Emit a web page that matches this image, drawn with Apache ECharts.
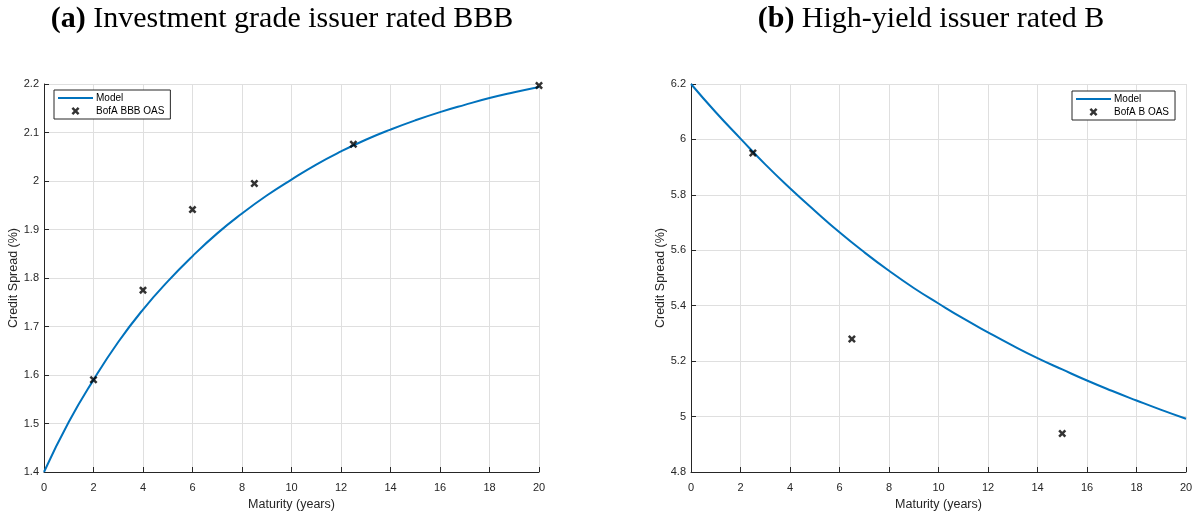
<!DOCTYPE html>
<html>
<head>
<meta charset="utf-8">
<script src="https://cdn.jsdelivr.net/npm/echarts@6/dist/echarts.min.js"></script>
<style>
html,body{margin:0;padding:0;background:#fff;}
#c{width:1200px;height:513px;}
</style>
</head>
<body>
<div id="c"></div>
<script>
// ---- data ----
const maturityGrid = [0,1,2,3,4,5,6,7,8,9,10,11,12,13,14,15,16,17,18,19,20];
const bbbModel = [1.400,1.503,1.590,1.668,1.735,1.793,1.845,1.892,1.933,1.970,2.003,2.034,2.061,2.085,2.106,2.125,2.142,2.157,2.171,2.183,2.194];
const bbbObsMaturity = [2,4,6,8.5,12.5,20];
const bbbObsSpread = [1.590,1.775,1.941,1.995,2.076,2.197];
const bModel = [6.200,6.098,6.003,5.910,5.824,5.743,5.665,5.593,5.526,5.464,5.408,5.354,5.304,5.256,5.211,5.170,5.130,5.093,5.058,5.024,4.992];
const bObsMaturity = [2.5,6.5,15];
const bObsSpread = [5.951,5.280,4.939];
const xTicks = [0,2,4,6,8,10,12,14,16,18,20];
const yTicksA = [1.4,1.5,1.6,1.7,1.8,1.9,2.0,2.1,2.2];
const yTicksB = [4.8,5.0,5.2,5.4,5.6,5.8,6.0,6.2];
const titleA = 'Investment grade issuer rated BBB';
const titleB = 'High-yield issuer rated B';
const legendA = ['Model','BofA BBB OAS'];
const legendB = ['Model','BofA B OAS'];

const pair = (xs, ys) => xs.map((x,i)=>[x, ys[i]]);
const crossPath = 'path://M0,2.2L2.2,0L5,2.8L7.8,0L10,2.2L7.2,5L10,7.8L7.8,10L5,7.2L2.2,10L0,7.8L2.8,5Z';
const lineIcon = 'path://M0,0L35,0L35,2L0,2Z';
const axisColor = '#262626';
const gridColor = '#dfdfdf';
const sansFont = '"Liberation Sans", Arial, Helvetica, sans-serif';
const fmt = v => String(+(+v).toFixed(2));

function xAxisCfg(gi){
  return {
    gridIndex: gi, type:'value', min:0, max:20, interval:2,
    name:'Maturity (years)', nameLocation:'middle', nameGap:26,
    nameTextStyle:{fontSize:12.5, color:axisColor, fontFamily:sansFont},
    axisLine:{show:true, onZero:false, lineStyle:{color:axisColor, width:1}},
    axisTick:{show:true, inside:true, length:5, lineStyle:{color:axisColor}},
    axisLabel:{fontSize:11, color:axisColor, margin:10, fontFamily:sansFont, formatter:fmt},
    splitLine:{show:true, lineStyle:{color:gridColor, width:1}}
  };
}
function yAxisCfg(gi, mn, mx, iv){
  return {
    gridIndex: gi, type:'value', min:mn, max:mx, interval:iv,
    name:'Credit Spread (%)', nameLocation:'middle', nameGap:23,
    nameTextStyle:{fontSize:12.5, color:axisColor, fontFamily:sansFont},
    axisLine:{show:true, onZero:false, lineStyle:{color:axisColor, width:1}},
    axisTick:{show:true, inside:true, length:5, lineStyle:{color:axisColor}},
    axisLabel:{fontSize:11, color:axisColor, margin:5, fontFamily:sansFont, formatter:fmt},
    splitLine:{show:true, lineStyle:{color:gridColor, width:1}}
  };
}
function legendCfg(pos, names){
  return Object.assign({
    orient:'vertical',
    data:[{name:names[0], icon:lineIcon, itemStyle:{color:'#0072BD'}},{name:names[1], icon:crossPath, itemStyle:{color:'#000'}}],
    backgroundColor:'#fff', borderColor:axisColor, borderWidth:1, borderRadius:0,
    padding:[3,6,3,4], itemGap:3, itemWidth:35, itemHeight:8,
    textStyle:{fontSize:10, color:'#000', fontFamily:sansFont, padding:[0,0,0,-2]},
    selectedMode:false
  }, pos);
}
const serif = '"Liberation Serif", "DejaVu Serif", serif';
const titleStyle = {
  fontFamily:serif, fontSize:30, color:'#000', fontWeight:'normal',
  rich:{ b:{fontFamily:serif, fontSize:30, fontWeight:'bold', color:'#000'} }
};

const chart = echarts.init(document.getElementById('c'), null, {renderer:'canvas'});
chart.setOption({
  animation:false,
  backgroundColor:'#fff',
  title:[
    {text:'{b|(a)} ' + titleA, left:277, top:-1, textAlign:'center', textStyle:titleStyle},
    {text:'{b|(b)} ' + titleB, left:926, top:-1, textAlign:'center', textStyle:titleStyle}
  ],
  grid:[
    {left:44, top:84, width:495, height:388, containLabel:false, outerBoundsMode:'none'},
    {left:691, top:84, width:495, height:388, containLabel:false, outerBoundsMode:'none'}
  ],
  xAxis:[xAxisCfg(0), xAxisCfg(1)],
  yAxis:[yAxisCfg(0,1.4,2.2,0.1), yAxisCfg(1,4.8,6.2,0.2)],
  legend:[
    legendCfg({left:54, top:90}, legendA),
    legendCfg({left:1072, top:91}, legendB)
  ],
  series:[
    {name:legendA[0], type:'line', xAxisIndex:0, yAxisIndex:0, data:pair(maturityGrid,bbbModel),
     smooth:true, symbol:'none', showSymbol:false, lineStyle:{color:'#0072BD', width:2}, itemStyle:{color:'#0072BD'}, z:2},
    {name:legendA[1], type:'scatter', xAxisIndex:0, yAxisIndex:0, data:pair(bbbObsMaturity,bbbObsSpread),
     symbol:crossPath, symbolSize:8, itemStyle:{color:'#000'}, z:3},
    {name:legendB[0], type:'line', xAxisIndex:1, yAxisIndex:1, data:pair(maturityGrid,bModel),
     smooth:true, symbol:'none', showSymbol:false, lineStyle:{color:'#0072BD', width:2}, itemStyle:{color:'#0072BD'}, z:2},
    {name:legendB[1], type:'scatter', xAxisIndex:1, yAxisIndex:1, data:pair(bObsMaturity,bObsSpread),
     symbol:crossPath, symbolSize:8, itemStyle:{color:'#000'}, z:3}
  ]
});
</script>
</body>
</html>
